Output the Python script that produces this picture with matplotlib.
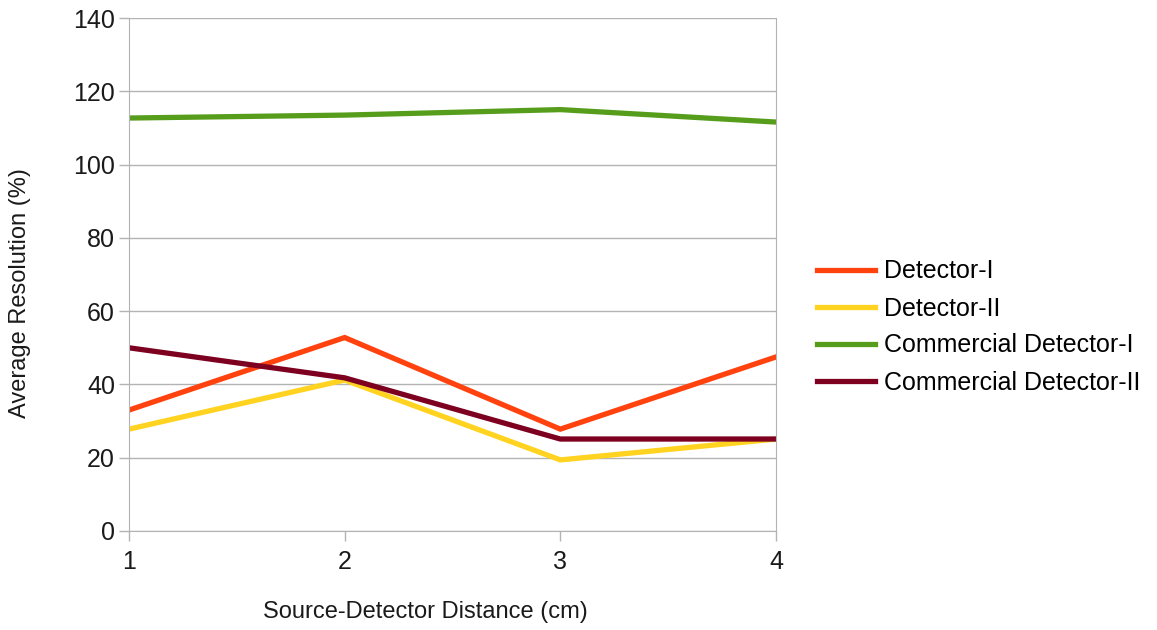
import matplotlib
matplotlib.use("Agg")
import matplotlib.pyplot as plt

plt.rcParams['font.family'] = ['Liberation Sans', 'DejaVu Sans']

# source-detector distance (cm)
distance = [1, 2, 3, 4]

# average resolution (%) per detector
detector_1 = [33.0, 52.8, 27.8, 47.5]
detector_2 = [27.8, 41.2, 19.4, 25.1]
commercial_1 = [112.7, 113.5, 115.0, 111.6]
commercial_2 = [50.0, 41.8, 25.1, 25.1]

labels = ["Detector-I", "Detector-II", "Commercial Detector-I", "Commercial Detector-II"]
colors = ["#ff420e", "#ffd320", "#579d1c", "#7e0021"]

fig = plt.figure(figsize=(11.57, 6.3), dpi=100)
ax = fig.add_axes([129 / 1157, 1 - 531 / 630, (776 - 129) / 1157, (531 - 18) / 630])

for series, lab, col in zip([detector_1, detector_2, commercial_1, commercial_2], labels, colors):
    ax.plot(distance, series, color=col, linewidth=3.8, label=lab, solid_joinstyle='miter')

ax.set_xlim(1, 4)
ax.set_ylim(0, 140)
ax.set_xticks(distance)
ax.set_yticks(range(0, 141, 20))
ax.grid(axis='y', color='#b3b3b3', linewidth=1)
ax.set_axisbelow(True)
for side in ['left', 'bottom', 'right']:
    ax.spines[side].set_color('#b3b3b3')
ax.spines['top'].set_visible(False)
ax.tick_params(axis='both', colors='#b3b3b3', labelcolor='#1a1a1a', labelsize=18, length=7, width=1)
ax.tick_params(axis='y', pad=3)
ax.tick_params(axis='x', pad=7)

fig.text(425 / 1157, 1 - 612 / 630, "Source-Detector Distance (cm)", ha='center', va='center',
         fontsize=17, color='#1a1a1a')
fig.text(20 / 1157, 1 - 293 / 630, "Average Resolution (%)", ha='center', va='center',
         rotation=90, fontsize=17, color='#1a1a1a')

fig.legend(loc='center left', bbox_to_anchor=(817 / 1157, 1 - 327 / 630), frameon=False,
           fontsize=18, handlelength=2.3, handletextpad=0.36, labelspacing=0.52,
           borderpad=0, borderaxespad=0)

fig.savefig("out.png", dpi=100)
